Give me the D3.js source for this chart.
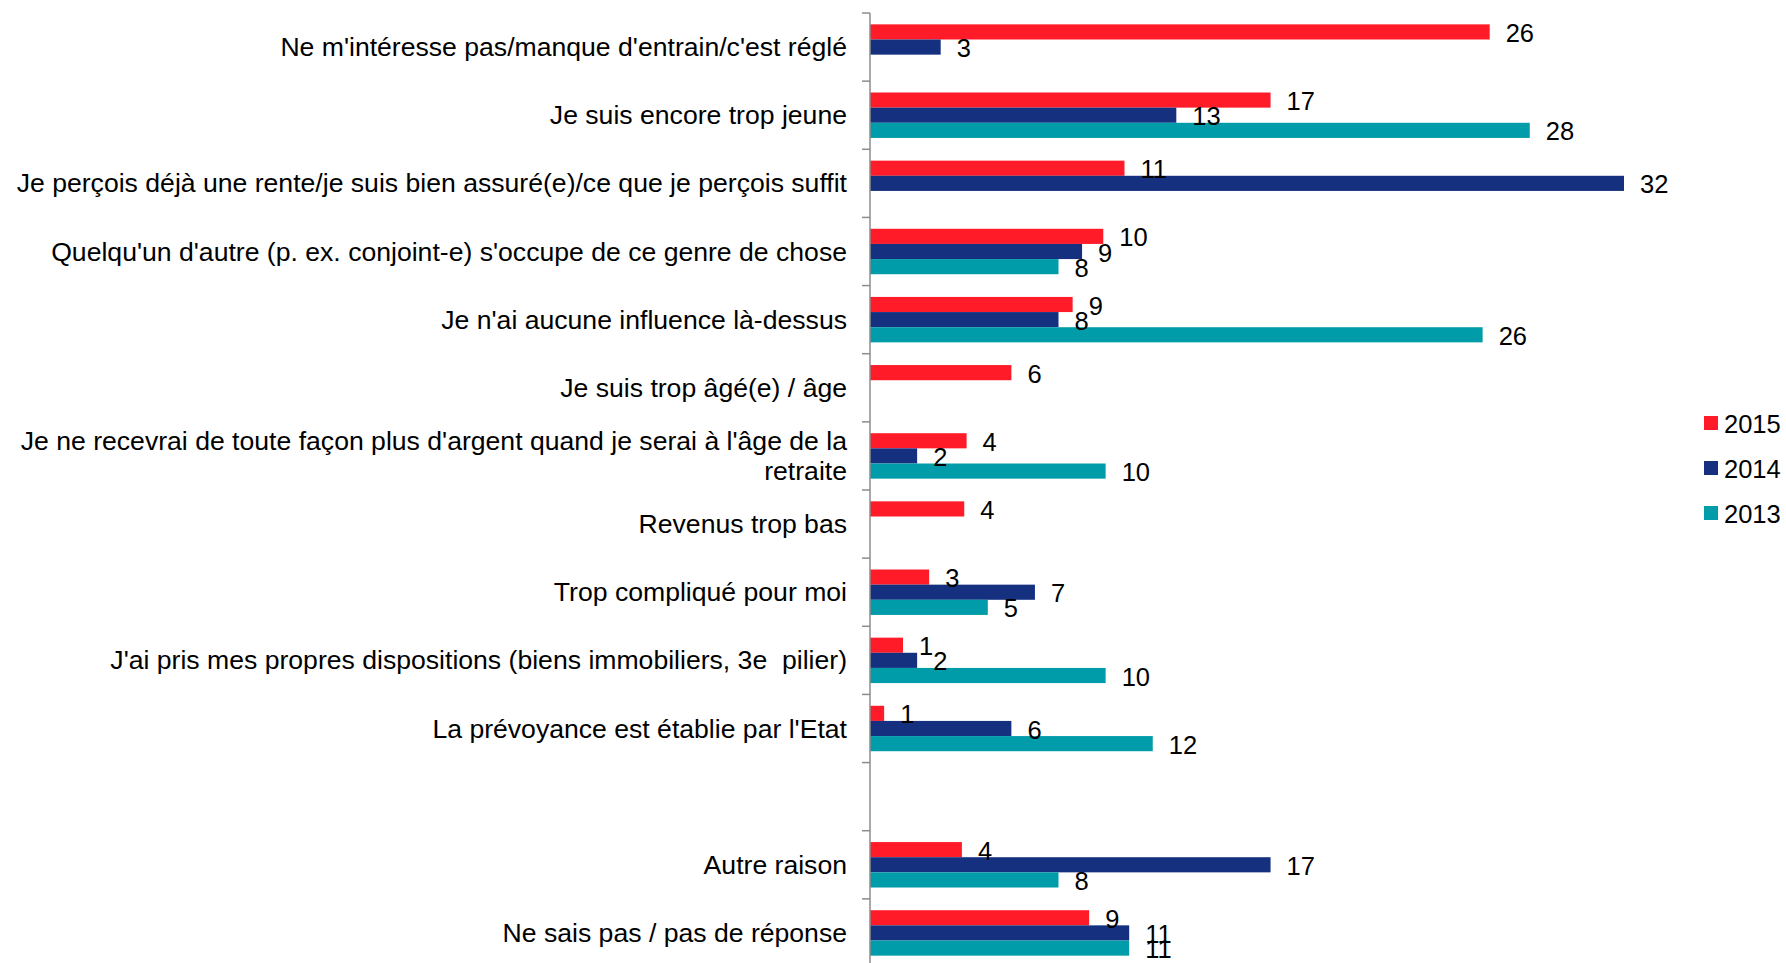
<!DOCTYPE html>
<html>
<head>
<meta charset="utf-8">
<script src="https://cdn.jsdelivr.net/npm/d3@7"></script>
<style>
    body { margin: 0; background: #fff; }
    svg { display: block; font-family: "Liberation Sans", Arial, sans-serif; }
    .cat-label { font-size: 26.6px; fill: #000; white-space: pre; }
    .value-label { font-size: 25.5px; fill: #000; }
    .legend-label { font-size: 25.5px; fill: #000; }
</style>
</head>
<body>
<div id="chart"></div>
<script>
const width = 1786;
const height = 963;

// categories, top to bottom ('' = empty slot in the original chart)
const categories = [
    "Ne m'intéresse pas/manque d'entrain/c'est réglé",
    "Je suis encore trop jeune",
    "Je perçois déjà une rente/je suis bien assuré(e)/ce que je perçois suffit",
    "Quelqu'un d'autre (p. ex. conjoint-e) s'occupe de ce genre de chose",
    "Je n'ai aucune influence là-dessus",
    "Je suis trop âgé(e) / âge",
    "Je ne recevrai de toute façon plus d'argent quand je serai à l'âge de la\nretraite",
    "Revenus trop bas",
    "Trop compliqué pour moi",
    "J'ai pris mes propres dispositions (biens immobiliers, 3e  pilier)",
    "La prévoyance est établie par l'Etat",
    "",
    "Autre raison",
    "Ne sais pas / pas de réponse"
];

const seriesNames = ['2015', '2014', '2013'];
const seriesColors = ['#ff1b27', '#14307f', '#009ca9'];

// values (null = no bar)
const values2015 = [26.3, 17, 10.8, 9.9, 8.6, 6, 4.1, 4, 2.51, 1.4, 0.6, null, 3.9, 9.3];
const values2014 = [3, 13, 32, 9, 8, null, 2, null, 7, 2, 6, null, 17, 11];
const values2013 = [null, 28, null, 8, 26, null, 10, null, 5, 10, 12, null, 8, 11];

const seriesValues = [values2015, values2014, values2013];

const axisX = 870;
const plotTop = 13;
const plotBottom = 967;

const svg = d3.select('#chart')
    .append('svg')
    .attr('width', width)
    .attr('height', height);

const x = d3.scaleLinear()
    .domain([0, 32])
    .range([axisX, 1624]);

const y = d3.scaleBand()
    .domain(d3.range(categories.length))
    .range([plotTop, plotBottom])
    .paddingInner(1 / 3)
    .paddingOuter(1 / 6);

const ySub = d3.scaleBand()
    .domain(d3.range(seriesNames.length))
    .range([0, y.bandwidth()]);

const fmt = d3.format('.0f');

// bars
seriesValues.forEach((vals, s) => {
    const items = vals.map((v, i) => ({ i, v })).filter(d => d.v !== null);

    svg.append('g')
        .selectAll('rect')
        .data(items)
        .enter()
        .append('rect')
        .attr('x', x(0))
        .attr('y', d => y(d.i) + ySub(s))
        .attr('width', d => x(d.v) - x(0))
        .attr('height', ySub.bandwidth())
        .attr('fill', seriesColors[s]);
});

// value labels (drawn after bars so they sit on top)
seriesValues.forEach((vals, s) => {
    const items = vals.map((v, i) => ({ i, v })).filter(d => d.v !== null);

    svg.append('g')
        .selectAll('text')
        .data(items)
        .enter()
        .append('text')
        .attr('class', 'value-label')
        .attr('x', d => x(d.v) + 16)
        .attr('y', d => y(d.i) + ySub(s) + ySub.bandwidth() / 2 + 1)
        .attr('dominant-baseline', 'central')
        .text(d => fmt(d.v));
});

// vertical axis with ticks between categories
const gap = y.step() * y.paddingInner() / 2;
const tickY = i => i < categories.length
    ? y(i) - gap
    : y(categories.length - 1) + y.bandwidth() + gap;
const axis = svg.append('g');

axis.append('line')
    .attr('x1', axisX).attr('x2', axisX)
    .attr('y1', plotTop).attr('y2', plotBottom)
    .attr('stroke', '#8c8c8c')
    .attr('stroke-width', 1.5);

axis.selectAll('.tick')
    .data(d3.range(categories.length + 1))
    .enter()
    .append('line')
    .attr('x1', axisX - 8).attr('x2', axisX)
    .attr('y1', tickY)
    .attr('y2', tickY)
    .attr('stroke', '#8c8c8c')
    .attr('stroke-width', 1.5);

// category labels (multi-line where the original wraps)
const lineHeight = 30;
const labels = svg.append('g')
    .selectAll('text')
    .data(categories)
    .enter()
    .append('text')
    .attr('class', 'cat-label')
    .attr('text-anchor', 'end')
    .attr('dominant-baseline', 'central');

labels.each(function (label, i) {
    const lines = label.split('\n');
    const cy = y(i) + y.bandwidth() / 2;
    const t = d3.select(this);
    lines.forEach((line, k) => {
        t.append('tspan')
            .attr('x', 847)
            .attr('y', cy + (k - (lines.length - 1) / 2) * lineHeight)
            .text(line);
    });
});

// legend
const legend = svg.append('g')
    .selectAll('g')
    .data(seriesNames)
    .enter()
    .append('g')
    .attr('transform', (d, i) => `translate(1704,${423 + i * 45})`);

legend.append('rect')
    .attr('x', 0)
    .attr('y', -7)
    .attr('width', 14)
    .attr('height', 14)
    .attr('fill', (d, i) => seriesColors[i]);

legend.append('text')
    .attr('class', 'legend-label')
    .attr('x', 20)
    .attr('y', 1)
    .attr('dominant-baseline', 'central')
    .text(d => d);
</script>
</body>
</html>
